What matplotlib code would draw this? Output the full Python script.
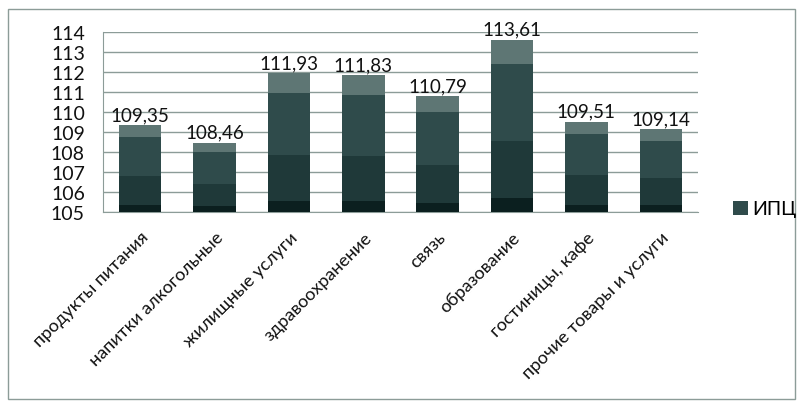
import matplotlib.pyplot as plt
from matplotlib.patches import Rectangle, Patch
import numpy as np

plt.rcParams['font.family'] = ['Lato', 'DejaVu Sans']

# данные
categories = ['продукты питания', 'напитки алкогольные', 'жилищные услуги',
              'здравоохранение', 'связь', 'образование', 'гостиницы, кафе',
              'прочие товары и услуги']
values = [109.35, 108.46, 111.93, 111.83, 110.79, 113.61, 109.51, 109.14]
base = 105
series_name = 'ИПЦ'

# градиентная заливка столбцов (полосы снизу вверх)
band_edges = [0.0, 0.08, 0.41, 0.86, 1.0]
band_colors = ['#0b1f1f', '#1f3939', '#2f4b4b', '#5e7674']
grid_color = '#8c9c98'

fig = plt.figure(figsize=(8.03, 4.06), dpi=100)
ax = fig.add_axes([103 / 803, 1 - 213 / 406, 595 / 803, 180 / 406])

x = np.arange(len(categories))
heights = np.array(values) - base
for i in range(len(band_colors)):
    lo = base + heights * band_edges[i]
    hi = base + heights * band_edges[i + 1]
    ax.bar(x, hi - lo, bottom=lo, width=0.57, color=band_colors[i], linewidth=0, zorder=3)

for xi, v in zip(x, values):
    ax.text(xi, v + 0.1, ('%.2f' % v).replace('.', ','), ha='center', va='bottom',
            fontsize=13.5, color='#111111', zorder=4)

ax.set_xlim(-0.5, len(categories) - 0.5)
ax.set_ylim(base, 114)
ax.set_yticks(range(105, 115))
ax.tick_params(axis='y', length=0, pad=13, labelsize=14, labelcolor='#111111')
ax.grid(axis='y', color=grid_color, linewidth=1, zorder=0)

ax.set_xticks(x)
ax.set_xticklabels(categories, rotation=45, ha='right', rotation_mode='anchor',
                   fontsize=13, color='#111111')
ax.tick_params(axis='x', length=0, pad=12)

for s in ['top', 'right']:
    ax.spines[s].set_visible(False)
for s in ['left', 'bottom']:
    ax.spines[s].set_color(grid_color)

fig.legend(handles=[Patch(facecolor=band_colors[2], edgecolor='none')],
           labels=[series_name], loc='center left',
           bbox_to_anchor=(733 / 803, 1 - 210 / 406), frameon=False,
           borderpad=0, borderaxespad=0,
           handlelength=0.75, handleheight=0.75, handletextpad=0.25, fontsize=14)

# рамка области диаграммы
fig.patches.append(Rectangle((8 / 803, 6 / 406), 787 / 803, 390 / 406,
                             transform=fig.transFigure, fill=False,
                             edgecolor=grid_color, linewidth=1))

fig.savefig('out.png', dpi=100)
